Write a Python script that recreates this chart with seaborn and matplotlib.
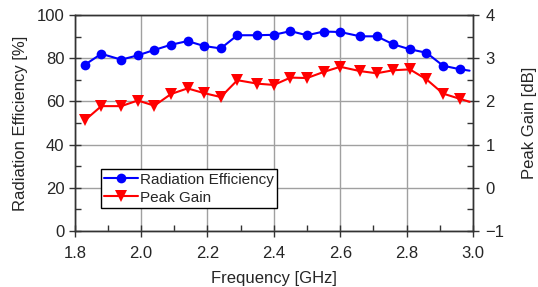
import numpy as np
import pandas as pd
import seaborn as sns
import matplotlib.pyplot as plt
from matplotlib.ticker import MultipleLocator

freq = [1.83, 1.88, 1.94, 1.99, 2.04, 2.09, 2.14, 2.19, 2.24, 2.29, 2.35, 2.40,
        2.45, 2.50, 2.55, 2.60, 2.66, 2.71, 2.76, 2.81, 2.86, 2.91, 2.96, 2.99]
efficiency = [76.9, 82.0, 79.3, 81.3, 83.8, 86.2, 87.9, 85.6, 84.5, 90.6, 90.6, 90.8,
              92.5, 90.6, 92.3, 92.1, 90.1, 90.1, 86.4, 84.1, 82.5, 76.5, 74.9, 74.2]
peak_gain = [1.56, 1.89, 1.89, 2.02, 1.90, 2.17, 2.30, 2.19, 2.10, 2.49, 2.41, 2.38,
             2.55, 2.54, 2.68, 2.80, 2.70, 2.65, 2.72, 2.74, 2.51, 2.18, 2.06, 1.99]

data = pd.DataFrame({'freq': freq, 'eff': efficiency, 'gain': peak_gain})
marked = list(range(len(freq) - 1))

sns.set_style("white")
plt.rcParams['font.family'] = ['Liberation Sans', 'DejaVu Sans']
plt.rcParams['font.size'] = 12

fig, ax = plt.subplots(figsize=(5.38, 2.87), dpi=100)
fig.subplots_adjust(left=0.139, right=0.879, top=0.948, bottom=0.195)
ax2 = ax.twinx()

sns.lineplot(data=data, x='freq', y='eff', ax=ax, color='#0000ff', marker='o',
             markersize=7, markeredgewidth=0, linewidth=1.5, markevery=marked,
             label='Radiation Efficiency', legend=False)
sns.lineplot(data=data, x='freq', y='gain', ax=ax2, color='#ff0000', marker='v',
             markersize=8.5, markeredgewidth=0, linewidth=1.5, markevery=marked,
             label='Peak Gain', legend=False)

ax.set_xlim(1.8, 3.0)
ax.set_ylim(0, 100)
ax2.set_ylim(-1, 4)
ax.xaxis.set_major_locator(MultipleLocator(0.2))
ax.xaxis.set_minor_locator(MultipleLocator(0.1))
ax.yaxis.set_major_locator(MultipleLocator(20))
ax.yaxis.set_minor_locator(MultipleLocator(10))
ax2.yaxis.set_major_locator(MultipleLocator(1))
ax2.yaxis.set_minor_locator(MultipleLocator(0.5))
ax.xaxis.set_major_formatter(plt.FormatStrFormatter('%.1f'))

ax.grid(True, which='major', color='#a0a0a0', linewidth=1)
ax.set_axisbelow(True)

ax.tick_params(which='major', direction='inout', length=8, width=1, color='#333333',
               labelsize=12, bottom=True, left=True)
ax.tick_params(axis='x', which='major', pad=7)
ax.tick_params(which='minor', direction='in', length=4, width=1, color='#333333',
               bottom=True, left=True)
ax2.tick_params(which='major', direction='inout', length=8, width=1, color='#333333',
                labelsize=12, right=True, pad=5)
ax2.tick_params(which='minor', direction='in', length=4, width=1, color='#333333',
                right=True)
for a in (ax, ax2):
    for s in a.spines.values():
        s.set_color('#333333')
        s.set_linewidth(1)

ax.set_xlabel('Frequency [GHz]', fontsize=12, labelpad=7)
ax.set_ylabel('Radiation Efficiency [%]', fontsize=12, labelpad=6)
ax2.set_ylabel('Peak Gain [dB]', fontsize=12, labelpad=13)

h1, l1 = ax.get_legend_handles_labels()
h2, l2 = ax2.get_legend_handles_labels()
leg = ax2.legend(h1 + h2, l1 + l2, loc='lower left', bbox_to_anchor=(0.065, 0.105),
                 borderaxespad=0, fancybox=False, framealpha=1, edgecolor='black',
                 fontsize=11, handlelength=2.2, handletextpad=0.1,
                 labelspacing=0.25, borderpad=0.25)
leg.get_frame().set_linewidth(1)

fig.savefig('out.png', dpi=100)
